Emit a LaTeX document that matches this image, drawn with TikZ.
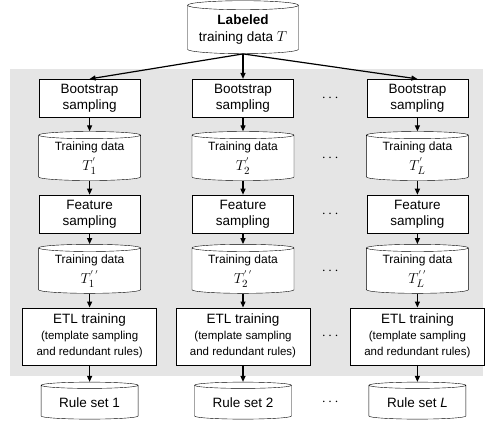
\documentclass[tikz,border=0pt]{standalone}
\usepackage{fontspec}
\setmainfont{Liberation Sans}
\usetikzlibrary{shapes.geometric, arrows.meta, positioning, calc}

\newcommand{\bigmath}[1]{{\fontsize{15}{15}\selectfont$#1$}}

\begin{document}
\begin{tikzpicture}[
        x=1pt, y=-1pt,
        proc/.style={rectangle, draw, fill=white, minimum width=101pt, minimum height=38pt, align=center, inner sep=1pt, font=\fontsize{13.5}{16}\selectfont},
        etl/.style={proc, minimum width=134pt, minimum height=57pt},
        db/.style={cylinder, shape border rotate=90, aspect=0.1, draw, fill=white, minimum width=102pt, minimum height=49pt, align=center, inner sep=1pt, font=\fontsize{12}{16}\selectfont},
        flow/.style={-{Triangle[length=6pt, width=5pt]}, line width=1.2pt},
        more/.style={font=\fontsize{15}{15}\selectfont},
    ]
    \useasboundingbox (0,0) rectangle (486,423);
    \fill[black!10] (10,69) rectangle (483,376);

    \node[db, minimum width=111pt, minimum height=53pt, font=\fontsize{13.5}{16}\selectfont] (data) at (243,30) {\textbf{Labeled}\\[1pt]training data \bigmath{T}};
    \node[proc, below=25pt of data] (boot2) {Bootstrap\\sampling};
    \node[proc, left=52pt of boot2] (boot1) {Bootstrap\\sampling};
    \node[proc, right=73pt of boot2] (bootL) {Bootstrap\\sampling};

    \foreach \c/\i/\n in {1/1/1, 2/2/2, L/L/\textit{L}} {
        \node[db, below=14pt of boot\c] (ta\c) {Training data\\[4pt]\bigmath{T^{'}_{\i}}};
        \node[proc, below=14pt of ta\c] (feat\c) {Feature\\sampling};
        \node[db, below=11pt of feat\c] (tb\c) {Training data\\[4pt]\bigmath{T^{'\,'}_{\i}}};
        \node[etl, below=14pt of tb\c] (etl\c) {ETL training\\{\fontsize{11.5}{15}\selectfont(template sampling}\\{\fontsize{11.5}{15}\selectfont and redundant rules)}};
        \node[db, below=17pt of etl\c, minimum width=97pt, minimum height=37pt, font=\fontsize{13.5}{16}\selectfont] (rule\c) {Rule set \n};

        \draw[flow] (data.south) -- (boot\c.north);
        \draw[flow] (boot\c) -- (ta\c);
        \draw[flow] (ta\c) -- (feat\c);
        \draw[flow] (feat\c) -- (tb\c);
        \draw[flow] (tb\c) -- (etl\c);
        \draw[flow] (etl\c) -- (rule\c);
    }

    % dots between the second and the last column
    \foreach \r in {boot, ta, feat, tb, etl, rule}
        \node[more] (dots\r) at ($(\r2.east)!0.5!(\r L.west)$) {$\cdots$};
\end{tikzpicture}
\end{document}
